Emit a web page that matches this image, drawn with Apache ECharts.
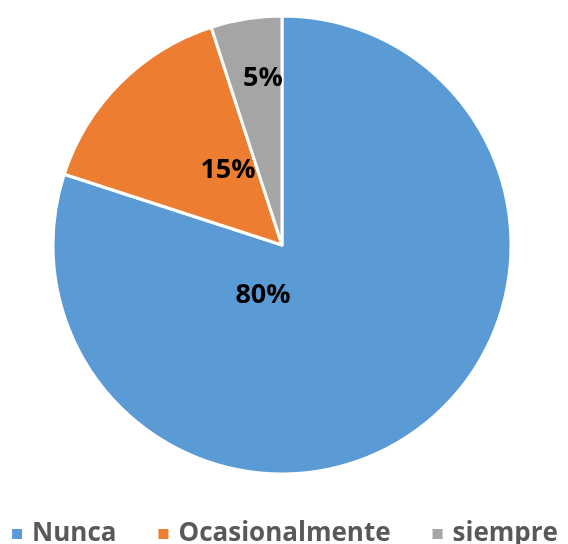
<!DOCTYPE html>
<html>
<head>
<meta charset="utf-8">
<script src="https://cdn.jsdelivr.net/npm/echarts@6/dist/echarts.min.js"></script>
<style>
  html, body { margin: 0; padding: 0; background: #fff; }
  #chart { width: 568px; height: 544px; }
</style>
</head>
<body>
<div id="chart"></div>
<script>
const categories = ['Nunca', 'Ocasionalmente', 'siempre']
const values = [80, 15, 5]
const colors = ['#5B9BD5', '#ED7D31', '#A5A5A5']

// label anchor points picked to match the original layout
const labelSpots = [[263, 295], [228, 170], [263, 78]]

const chart = echarts.init(document.getElementById('chart'))

chart.setOption({
  animation: false,
  color: colors,
  legend: {
    data: categories,
    left: 'center',
    top: 516,
    icon: 'rect',
    itemWidth: 12,
    itemHeight: 12,
    itemGap: 40,
    textStyle: {
      fontFamily: 'Open Sans',
      fontWeight: 'bold',
      fontSize: 26,
      color: '#595959',
      padding: [0, 0, 0, 4]
    }
  },
  series: [{
    type: 'pie',
    center: [282, 245],
    radius: 229,
    startAngle: 90,
    clockwise: true,
    itemStyle: {
      borderColor: '#fff',
      borderWidth: 3
    },
    label: {
      show: true,
      position: 'inside',
      formatter: '{d}%',
      fontFamily: 'Open Sans',
      fontWeight: 'bold',
      fontSize: 27,
      color: '#000'
    },
    labelLayout: (params) => {
      const p = labelSpots[params.dataIndex]
      return { x: p[0], y: p[1], align: 'center', verticalAlign: 'middle' }
    },
    emphasis: { disabled: true },
    data: categories.map((name, i) => ({ name, value: values[i] }))
  }]
})
</script>
</body>
</html>
